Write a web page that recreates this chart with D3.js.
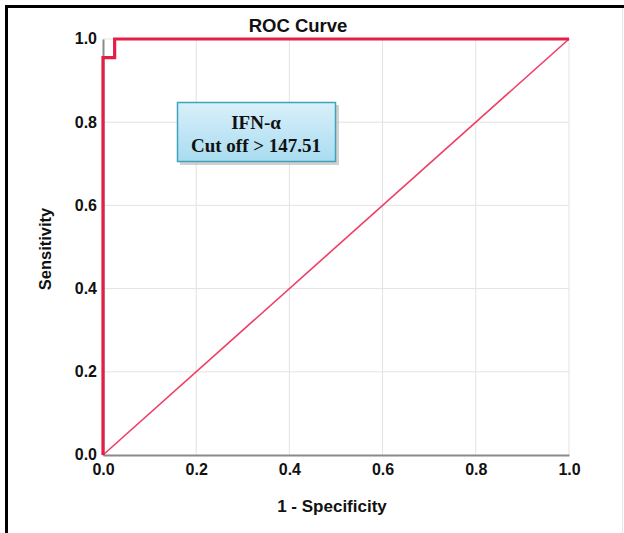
<!DOCTYPE html>
<html>
<head>
<meta charset="utf-8">
<script src="https://cdn.jsdelivr.net/npm/d3@7"></script>
<style>
  body { margin: 0; background: #fff; }
  svg { display: block; }
</style>
</head>
<body>
<div id="chart-area"></div>
<script>
// ROC curve points (1 - specificity, sensitivity)
let rocFpr = [0, 0, 0.025, 0.025, 1];
let rocTpr = [0, 0.955, 0.955, 1, 1];
// reference diagonal
let refFpr = [0, 1];
let refTpr = [0, 1];
let ticks = [0, 0.2, 0.4, 0.6, 0.8, 1.0];
let markerName = "IFN-α";
let cutOff = "Cut off > 147.51";

let W = 624, H = 533;
let margin = { left: 103, right: 55, top: 39, bottom: 78 };
let width = W - margin.left - margin.right;
let height = H - margin.top - margin.bottom;

let svg = d3.select("#chart-area")
  .append("svg")
  .attr("width", W)
  .attr("height", H);

// outer frame (top + left black, faint right)
svg.append("line").attr("x1", 5).attr("x2", W).attr("y1", 6.5).attr("y2", 6.5)
  .attr("stroke", "#000").attr("stroke-width", 3);
svg.append("line").attr("x1", 6.5).attr("x2", 6.5).attr("y1", 5).attr("y2", H)
  .attr("stroke", "#000").attr("stroke-width", 3);
svg.append("line").attr("x1", 622.5).attr("x2", 622.5).attr("y1", 8).attr("y2", H)
  .attr("stroke", "#e6e6e6").attr("stroke-width", 1);

let g = svg.append("g")
  .attr("transform", "translate(" + margin.left + "," + margin.top + ")");

let x = d3.scaleLinear().domain([0, 1]).range([0, width]);
let y = d3.scaleLinear().domain([0, 1]).range([height, 0]);

// grid
g.append("g").selectAll("line.vg")
  .data(ticks.slice(1))
  .enter().append("line")
  .attr("x1", d => x(d)).attr("x2", d => x(d))
  .attr("y1", 0).attr("y2", height)
  .attr("stroke", "#e3e3e3").attr("stroke-width", 1);
g.append("g").selectAll("line.hg")
  .data(ticks.slice(1))
  .enter().append("line")
  .attr("x1", 0).attr("x2", width)
  .attr("y1", d => y(d)).attr("y2", d => y(d))
  .attr("stroke", "#e3e3e3").attr("stroke-width", 1);

// axes
let xAxisCall = d3.axisBottom(x).tickValues(ticks).tickSize(0).tickPadding(6)
  .tickFormat(d3.format(".1f"));
let xAx = g.append("g")
  .attr("transform", "translate(0," + height + ")")
  .call(xAxisCall);
xAx.select(".domain").attr("stroke", "#8a8a8a").attr("stroke-width", 2);
xAx.selectAll("text")
  .attr("font-family", "Arial, 'Liberation Sans', sans-serif")
  .attr("font-size", "16px").attr("font-weight", "bold").attr("fill", "#111")
  .attr("dy", "0.85em");

let yAxisCall = d3.axisLeft(y).tickValues(ticks).tickSize(0).tickPadding(6)
  .tickFormat(d3.format(".1f"));
let yAx = g.append("g").call(yAxisCall);
yAx.select(".domain").attr("stroke", "#8a8a8a").attr("stroke-width", 2);
yAx.selectAll("text")
  .attr("font-family", "Arial, 'Liberation Sans', sans-serif")
  .attr("font-size", "16px").attr("font-weight", "bold").attr("fill", "#111")
  .attr("dy", "0.3em");

// diagonal reference
let line = d3.line().x(d => x(d[0])).y(d => y(d[1]));
g.append("path")
  .datum(d3.zip(refFpr, refTpr))
  .attr("d", line)
  .attr("fill", "none")
  .attr("stroke", "#ee3f66")
  .attr("stroke-width", 1.6);

// ROC curve
g.append("path")
  .datum(d3.zip(rocFpr, rocTpr))
  .attr("d", line)
  .attr("fill", "none")
  .attr("stroke", "#e51e48")
  .attr("stroke-width", 3.2)
  .attr("stroke-linejoin", "miter");

// title
svg.append("text")
  .attr("x", 298)
  .attr("y", 32)
  .attr("text-anchor", "middle")
  .attr("font-family", "Arial, 'Liberation Sans', sans-serif")
  .attr("font-size", "18.5px").attr("font-weight", "bold").attr("fill", "#111")
  .text("ROC Curve");

// X label
svg.append("text")
  .attr("x", 332)
  .attr("y", 512)
  .attr("text-anchor", "middle")
  .attr("font-family", "Arial, 'Liberation Sans', sans-serif")
  .attr("font-size", "17px").attr("font-weight", "bold").attr("fill", "#111")
  .text("1 - Specificity");

// Y label
svg.append("text")
  .attr("transform", "translate(51," + (margin.top + height / 2 + 2) + ") rotate(-90)")
  .attr("text-anchor", "middle")
  .attr("font-family", "Arial, 'Liberation Sans', sans-serif")
  .attr("font-size", "16.5px").attr("font-weight", "bold").attr("fill", "#111")
  .text("Sensitivity");

// annotation box
let defs = svg.append("defs");
let grad = defs.append("linearGradient").attr("id", "boxg")
  .attr("x1", 0).attr("y1", 0).attr("x2", 0).attr("y2", 1);
grad.append("stop").attr("offset", "0%").attr("stop-color", "#d9f0fa");
grad.append("stop").attr("offset", "100%").attr("stop-color", "#a9dcf1");

svg.append("rect")
  .attr("x", 180).attr("y", 105).attr("width", 159).attr("height", 60)
  .attr("fill", "#bdbdbd").attr("opacity", 0.7);
svg.append("rect")
  .attr("x", 177.5).attr("y", 102.5).attr("width", 158).attr("height", 59)
  .attr("fill", "url(#boxg)")
  .attr("stroke", "#3fa3bd").attr("stroke-width", 1.5);

svg.append("text")
  .attr("x", 256).attr("y", 129)
  .attr("text-anchor", "middle")
  .attr("font-family", "'Liberation Serif', 'Times New Roman', serif")
  .attr("font-size", "19px").attr("font-weight", "bold").attr("fill", "#111")
  .text(markerName);
svg.append("text")
  .attr("x", 256).attr("y", 152)
  .attr("text-anchor", "middle")
  .attr("font-family", "'Liberation Serif', 'Times New Roman', serif")
  .attr("font-size", "19px").attr("font-weight", "bold").attr("fill", "#111")
  .text(cutOff);
</script>
</body>
</html>
